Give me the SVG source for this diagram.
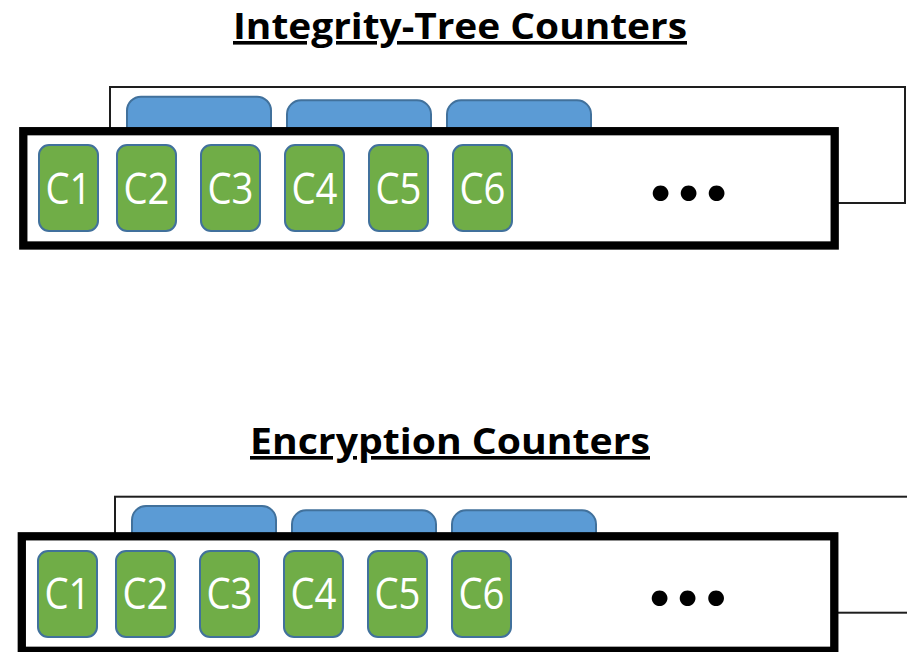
<svg xmlns="http://www.w3.org/2000/svg" width="907" height="652" viewBox="0 0 907 652">
<style>
.title{font-family:"Open Sans","Liberation Sans",sans-serif;font-weight:bold;font-size:36px;fill:#000;text-anchor:middle;text-decoration:underline}
.back{fill:#fff;stroke:#1e1e1e;stroke-width:2}
.tab{fill:#5B9BD5;stroke:#41719C;stroke-width:2}
.front{fill:#fff;stroke:#000;stroke-width:8.3}
.ctr rect{fill:#70AD47;stroke:#41719C;stroke-width:2}
.ctr text{font-family:"Open Sans","Liberation Sans",sans-serif;font-size:43px;fill:#fff;text-anchor:middle}
.dots{font-family:Lato,"Liberation Sans",sans-serif;font-weight:bold;font-size:104px;fill:#000;text-anchor:middle}
</style>
<rect width="907" height="652" fill="#fff"/>

<g id="title-integrity">
<text class="title" x="460" y="39" textLength="454" lengthAdjust="spacingAndGlyphs">Integrity-Tree Counters</text>
</g>

<g id="integrity-block">
<rect class="back" x="110" y="87" width="795" height="116"/>
<rect class="tab" x="127" y="96.7" width="144" height="60" rx="14"/>
<rect class="tab" x="287" y="100.3" width="144" height="60" rx="14"/>
<rect class="tab" x="447" y="100.3" width="144" height="60" rx="14"/>
<rect class="front" x="23.3" y="131.2" width="811.4" height="114.3"/>
</g>
<g id="it-c1" class="ctr"><rect x="39" y="145" width="59" height="86" rx="10"/><text x="68.5" y="204" textLength="46" lengthAdjust="spacingAndGlyphs">C1</text></g>
<g id="it-c2" class="ctr"><rect x="117" y="145" width="59" height="86" rx="10"/><text x="146.5" y="204" textLength="46" lengthAdjust="spacingAndGlyphs">C2</text></g>
<g id="it-c3" class="ctr"><rect x="201" y="145" width="59" height="86" rx="10"/><text x="230.5" y="204" textLength="46" lengthAdjust="spacingAndGlyphs">C3</text></g>
<g id="it-c4" class="ctr"><rect x="285" y="145" width="59" height="86" rx="10"/><text x="314.5" y="204" textLength="46" lengthAdjust="spacingAndGlyphs">C4</text></g>
<g id="it-c5" class="ctr"><rect x="369" y="145" width="59" height="86" rx="10"/><text x="398.5" y="204" textLength="46" lengthAdjust="spacingAndGlyphs">C5</text></g>
<g id="it-c6" class="ctr"><rect x="453" y="145" width="59" height="86" rx="10"/><text x="482.5" y="204" textLength="46" lengthAdjust="spacingAndGlyphs">C6</text></g>
<g id="it-dots"><text class="dots" x="660.5 688.5 716.5" y="200">...</text></g>

<g id="title-encryption">
<text class="title" x="450" y="454" textLength="400" lengthAdjust="spacingAndGlyphs">Encryption Counters</text>
</g>

<g id="encryption-block">
<rect class="back" x="115" y="496.7" width="820" height="116"/>
<rect class="tab" x="132" y="506" width="144" height="60" rx="14"/>
<rect class="tab" x="292" y="510.3" width="144" height="60" rx="14"/>
<rect class="tab" x="452" y="510.3" width="144" height="60" rx="14"/>
<rect class="front" x="21.8" y="536.3" width="812.5" height="114.5"/>
</g>
<g id="en-c1" class="ctr"><rect x="38" y="551" width="59" height="86" rx="10"/><text x="67.5" y="609" textLength="46" lengthAdjust="spacingAndGlyphs">C1</text></g>
<g id="en-c2" class="ctr"><rect x="116" y="551" width="59" height="86" rx="10"/><text x="145.5" y="609" textLength="46" lengthAdjust="spacingAndGlyphs">C2</text></g>
<g id="en-c3" class="ctr"><rect x="200" y="551" width="59" height="86" rx="10"/><text x="229.5" y="609" textLength="46" lengthAdjust="spacingAndGlyphs">C3</text></g>
<g id="en-c4" class="ctr"><rect x="284" y="551" width="59" height="86" rx="10"/><text x="313.5" y="609" textLength="46" lengthAdjust="spacingAndGlyphs">C4</text></g>
<g id="en-c5" class="ctr"><rect x="368" y="551" width="59" height="86" rx="10"/><text x="397.5" y="609" textLength="46" lengthAdjust="spacingAndGlyphs">C5</text></g>
<g id="en-c6" class="ctr"><rect x="452" y="551" width="59" height="86" rx="10"/><text x="481.5" y="609" textLength="46" lengthAdjust="spacingAndGlyphs">C6</text></g>
<g id="en-dots"><text class="dots" x="659.5 687.5 716" y="605">...</text></g>

<g id="connectors"/>
</svg>
